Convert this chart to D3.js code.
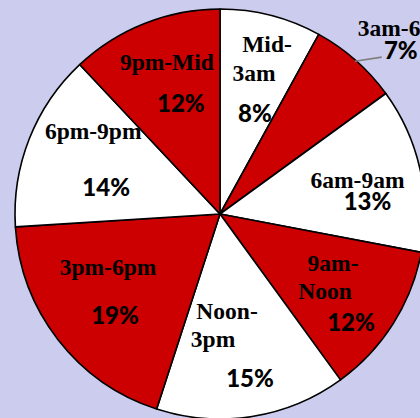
<!DOCTYPE html>
<html>
<head>
<meta charset="utf-8">
<script src="https://cdn.jsdelivr.net/npm/d3@7"></script>
<style>
  html, body { margin: 0; padding: 0; background: #ccccee; }
  svg { display: block; }
</style>
</head>
<body>
<svg id="chart"></svg>
<script>
// data
const slots = ['Mid-3am', '3am-6am', '6am-9am', '9am-Noon', 'Noon-3pm', '3pm-6pm', '6pm-9pm', '9pm-Mid']
const nameLines = [['Mid-', '3am'], ['3am-6am'], ['6am-9am'], ['9am-', 'Noon'], ['Noon-', '3pm'], ['3pm-6pm'], ['6pm-9pm'], ['9pm-Mid']]
const shares = [8, 7, 13, 12, 15, 19, 14, 12]
const sliceColors = ['#ffffff', '#cc0000', '#ffffff', '#cc0000', '#ffffff', '#cc0000', '#ffffff', '#cc0000']

// label nudges from each slice centroid (name lines, then percent)
const nameNudge = [
  [[21.5, -70.7], [8.5, -41.7]],
  [[117, -109]],
  [[37.5, -11.6]],
  [[26.5, -5.9], [18.5, 22.1]],
  [[-9, -4], [-23, 24]],
  [[-31, -10]],
  [[-31.5, -45.3]],
  [[-15.4, -56.3]],
]
const pctNudge = [[9.5, -2.7], [113, -88], [47.5, 8.4], [44.5, 52.1], [14, 62], [-24, 38], [-18.5, 10.7], [-1.4, -16.3]]

const width = 420
const height = 418
const cx = 220
const cy = 214
const radius = 205

const svg = d3.select('#chart').attr('width', width).attr('height', height)

svg.append('rect')
  .attr('width', width)
  .attr('height', height)
  .attr('fill', '#ccccee')

const pie = d3.pie().sort(null).value(d => d)
const arcs = pie(shares)
const arc = d3.arc().innerRadius(0).outerRadius(radius)

const g = svg.append('g').attr('transform', `translate(${cx},${cy})`)

g.selectAll('path.slice')
  .data(arcs)
  .join('path')
  .attr('class', 'slice')
  .attr('d', arc)
  .attr('fill', (d, i) => sliceColors[i])
  .attr('stroke', '#000')
  .attr('stroke-width', 1.6)
  .attr('stroke-linejoin', 'round')

// leader line for the small outside label (3am-6am)
const small = arcs[1]
const edge = d3.arc().innerRadius(radius * 0.98).outerRadius(radius * 0.98)
const ep = edge.centroid(small)
const c1 = arc.centroid(small)
g.append('path')
  .attr('d', `M${ep[0] + 2},${ep[1] - 2} L${c1[0] + 94},${c1[1] - 80}`)
  .attr('fill', 'none')
  .attr('stroke', '#7f7f7f')
  .attr('stroke-width', 1.6)

arcs.forEach((d, i) => {
  const [x0, y0] = arc.centroid(d)
  nameLines[i].forEach((line, j) => {
    const [dx, dy] = nameNudge[i][j]
    g.append('text')
      .attr('x', x0 + dx)
      .attr('y', y0 + dy)
      .attr('text-anchor', 'middle')
      .attr('dominant-baseline', 'central')
      .attr('font-family', '"Liberation Serif", "Times New Roman", serif')
      .attr('font-weight', 'bold')
      .attr('font-size', 23.5)
      .attr('fill', '#000')
      .text(line)
  })
  const [px, py] = pctNudge[i]
  g.append('text')
    .attr('x', x0 + px)
    .attr('y', y0 + py)
    .attr('text-anchor', 'middle')
    .attr('dominant-baseline', 'central')
    .attr('font-family', 'Lato, "Open Sans", sans-serif')
    .attr('font-weight', 900)
    .attr('font-size', 24)
    .attr('fill', '#000')
    .text(shares[i] + '%')
})
</script>
</body>
</html>
